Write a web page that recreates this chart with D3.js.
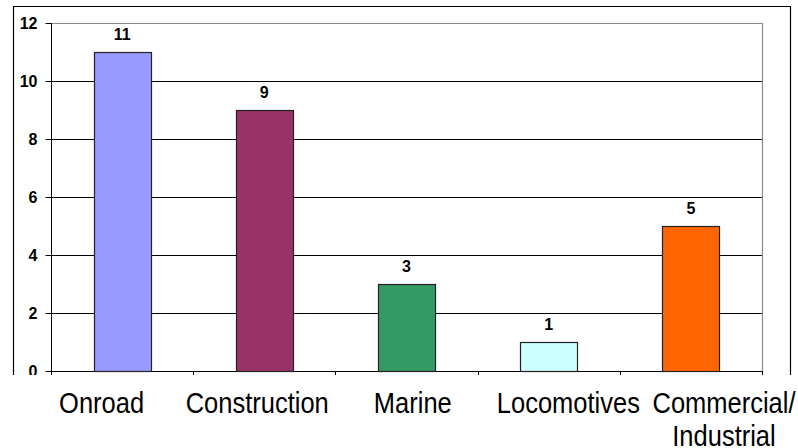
<!DOCTYPE html>
<html>
<head>
<meta charset="utf-8">
<script src="https://cdn.jsdelivr.net/npm/d3@7"></script>
<style>
  html, body { margin: 0; padding: 0; background: #fff; }
  svg { display: block; font-family: "Liberation Sans", Arial, sans-serif; }
</style>
</head>
<body>
<svg id="chart" width="798" height="448"></svg>
<script>
// data
const categories = ['Onroad', 'Construction', 'Marine', 'Locomotives', 'Commercial/Industrial'];
const labelLines = [['Onroad'], ['Construction'], ['Marine'], ['Locomotives'], ['Commercial/', 'Industrial']];
const values = [11, 9, 3, 1, 5];
const colors = ['#9999ff', '#993366', '#339966', '#ccffff', '#ff6600'];
const yTicks = [0, 2, 4, 6, 8, 10, 12];

const svg = d3.select('#chart');
const plot = {left: 51, right: 762, top: 23, bottom: 371};
const clipBottom = 375;

// clip for the chart frame (the source image cuts it off just below the axis)
svg.append('defs').append('clipPath').attr('id', 'frameClip')
  .append('rect').attr('x', 0).attr('y', 0).attr('width', 798).attr('height', clipBottom);

const g = svg.append('g').attr('clip-path', 'url(#frameClip)');

// outer frame (left, top, right)
g.append('path')
  .attr('d', `M13.5,${clipBottom + 2}V6.5H790.5V${clipBottom + 2}`)
  .attr('fill', 'none').attr('stroke', '#000').attr('stroke-width', 1.2);

const x = d3.scaleBand().domain(categories).range([plot.left, plot.right])
  .paddingInner(0.6).paddingOuter(0.3);
const y = d3.scaleLinear().domain([0, 12]).range([plot.bottom, plot.top]);

// gridlines
g.append('g').selectAll('line').data(yTicks.filter(d => d > 0 && d < 12)).join('line')
  .attr('x1', plot.left).attr('x2', plot.right)
  .attr('y1', d => Math.round(y(d)) + 0.5).attr('y2', d => Math.round(y(d)) + 0.5)
  .attr('stroke', '#000').attr('stroke-width', 1);

// plot area border top / right (gray)
g.append('path')
  .attr('d', `M${plot.left},${Math.round(y(12)) + 0.5}H${plot.right + 0.5}V${plot.bottom}`)
  .attr('fill', 'none').attr('stroke', '#8c8c8c').attr('stroke-width', 1.2);

// y axis
const yAxis = g.append('g').attr('transform', `translate(${plot.left + 0.5},0)`)
  .call(d3.axisLeft(y).tickValues(yTicks).tickSize(6).tickPadding(8).tickFormat(d3.format('d')));
yAxis.select('.domain').attr('d', `M0,${plot.top}V${clipBottom + 2}`).attr('stroke', '#000');
yAxis.selectAll('.tick line').attr('stroke', '#000');
yAxis.selectAll('.tick text')
  .attr('font-family', '"Liberation Sans", Arial, sans-serif')
  .attr('font-size', 16).attr('font-weight', 'bold').attr('fill', '#000');

// x axis line + category boundary ticks
const bounds = d3.range(categories.length + 1).map(i => plot.left + i * (plot.right - plot.left) / categories.length);
g.append('line')
  .attr('x1', plot.left).attr('x2', plot.right + 1)
  .attr('y1', plot.bottom + 0.5).attr('y2', plot.bottom + 0.5)
  .attr('stroke', '#000');
g.append('g').selectAll('line').data(bounds.slice(1)).join('line')
  .attr('x1', d => Math.round(d) + 0.5).attr('x2', d => Math.round(d) + 0.5)
  .attr('y1', plot.bottom).attr('y2', plot.bottom + 6)
  .attr('stroke', '#000');

// bars
g.append('g').selectAll('rect').data(values).join('rect')
  .attr('x', (d, i) => Math.round(x(categories[i])) + 0.5)
  .attr('y', d => Math.round(y(d)) + 0.5)
  .attr('width', Math.round(x.bandwidth()))
  .attr('height', d => Math.round(y(0)) - Math.round(y(d)))
  .attr('fill', (d, i) => colors[i])
  .attr('stroke', '#222').attr('stroke-width', 1.2);

// value labels
g.append('g').selectAll('text').data(values).join('text')
  .attr('x', (d, i) => x(categories[i]) + x.bandwidth() / 2)
  .attr('y', d => y(d) - 12)
  .attr('text-anchor', 'middle')
  .attr('font-size', 16).attr('font-weight', 'bold').attr('fill', '#000')
  .text(d => d);

// category labels (laid out on their own wider band, like the source; glyphs a bit tall/narrow)
const xl = d3.scaleBand().domain(categories).range([23.8, 801.8]);
const lbl = svg.append('g').selectAll('g').data(categories).join('g')
  .attr('transform', d => `translate(${xl(d) + xl.bandwidth() / 2},413) scale(1,1.15)`);
lbl.selectAll('text').data((d, i) => labelLines[i]).join('text')
  .attr('x', 0)
  .attr('y', (d, i) => i * 29)
  .attr('text-anchor', 'middle')
  .attr('font-size', 25.5).attr('fill', '#000')
  .text(d => d);
</script>
</body>
</html>
